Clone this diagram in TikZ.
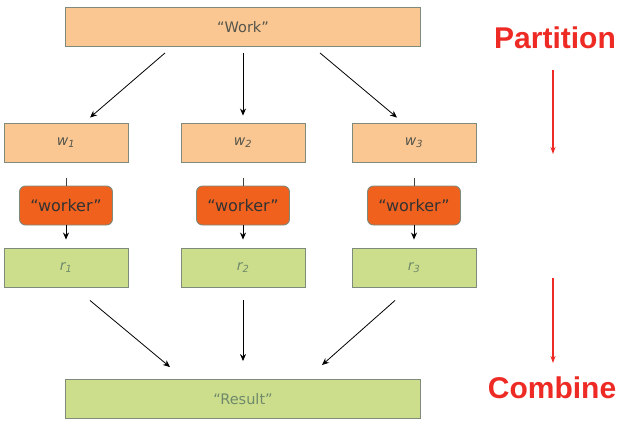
\documentclass[tikz,border=0pt]{standalone}
\usepackage{fontspec}
\newfontfamily\boxfont{DejaVu Sans}
\newfontfamily\headfont{Liberation Sans}
\usetikzlibrary{arrows.meta,positioning,calc}
\definecolor{peach}{HTML}{FAC793}
\definecolor{leaf}{HTML}{CCDE8C}
\definecolor{flame}{HTML}{F0611E}
\definecolor{rim}{HTML}{7E8A7A}
\definecolor{inkgray}{HTML}{55554A}
\definecolor{inkgreen}{HTML}{6F8A6A}
\definecolor{signal}{HTML}{EE2A24}
\tikzset{
  taskbox/.style  = {draw=rim, line width=0.9pt, fill=peach, inner sep=0pt,
                     minimum width=124pt, minimum height=39pt,
                     font=\boxfont\fontsize{14}{16}\selectfont\itshape, text=inkgray},
  resbox/.style   = {taskbox, fill=leaf, text=inkgreen},
  workerbox/.style= {draw=rim, line width=0.9pt, fill=flame, rounded corners=6pt,
                     inner sep=0pt, minimum width=93pt, minimum height=39pt,
                     font=\boxfont\fontsize{16}{18}\selectfont, text=black!80},
  flow/.style     = {-{Stealth[length=7pt,width=6pt]}, line width=0.8pt},
  stage/.style    = {-{Stealth[length=7pt,width=5pt]}, line width=1.3pt, signal},
  headline/.style = {font=\headfont\bfseries\fontsize{30}{34}\selectfont,
                     text=signal, inner sep=0pt, anchor=base},
}
\begin{document}
\begin{tikzpicture}[x=1pt,y=-1pt]
  \useasboundingbox (0,0) rectangle (620,421);

  % top and bottom bars
  \node[taskbox, minimum width=355pt, font=\boxfont\fontsize{14.5}{16}\selectfont]
        (work) at (243,27) {“Work”};
  \node[resbox, minimum width=355pt, font=\boxfont\fontsize{14.5}{16}\selectfont]
        (result) at (243,399) {“Result”};

  % the three lanes
  \foreach \i/\x in {1/66, 2/243, 3/414} {
    \node[taskbox]   (w\i)   at (\x,142.5) {w\textsubscript{\i}};
    \node[workerbox] (wk\i)  at (\x,205.5) {“worker”};
    \node[resbox]    (r\i)   at (\x,267.5) {r\textsubscript{\i}};
    \draw[line width=0.8pt, rim!50!black] ([yshift=-16]w\i.south) -- (wk\i.north);
    \draw[flow] (wk\i.south) -- ([yshift=8]r\i.north);
  }

  % partition
  \draw[flow] ([xshift=-78,yshift=-6]work.south) -- ([xshift=24,yshift=5]w1.north);
  \draw[flow] ([yshift=-6]work.south) -- ([yshift=7]w2.north);
  \draw[flow] ([xshift=77,yshift=-6]work.south) -- ([xshift=-17,yshift=5]w3.north);

  % combine
  \draw[flow] ([xshift=24,yshift=-13]r1.south) -- ([xshift=-73,yshift=12]result.north);
  \draw[flow] ([yshift=-13]r2.south) -- ([yshift=18]result.north);
  \draw[flow] ([xshift=-19,yshift=-13]r3.south) -- ([xshift=79,yshift=14]result.north);

  % phase labels
  \node[headline] (part) at (555,48) {Partition};
  \node[headline] (comb) at (552,398) {Combine};
  \coordinate (pa) at (553,70);
  \coordinate (pb) at (553,154);
  \coordinate (ca) at (553,278);
  \coordinate (cb) at (553,363);
  \draw[stage] (pa) -- (pb);
  \draw[stage] (ca) -- (cb);
\end{tikzpicture}
\end{document}
